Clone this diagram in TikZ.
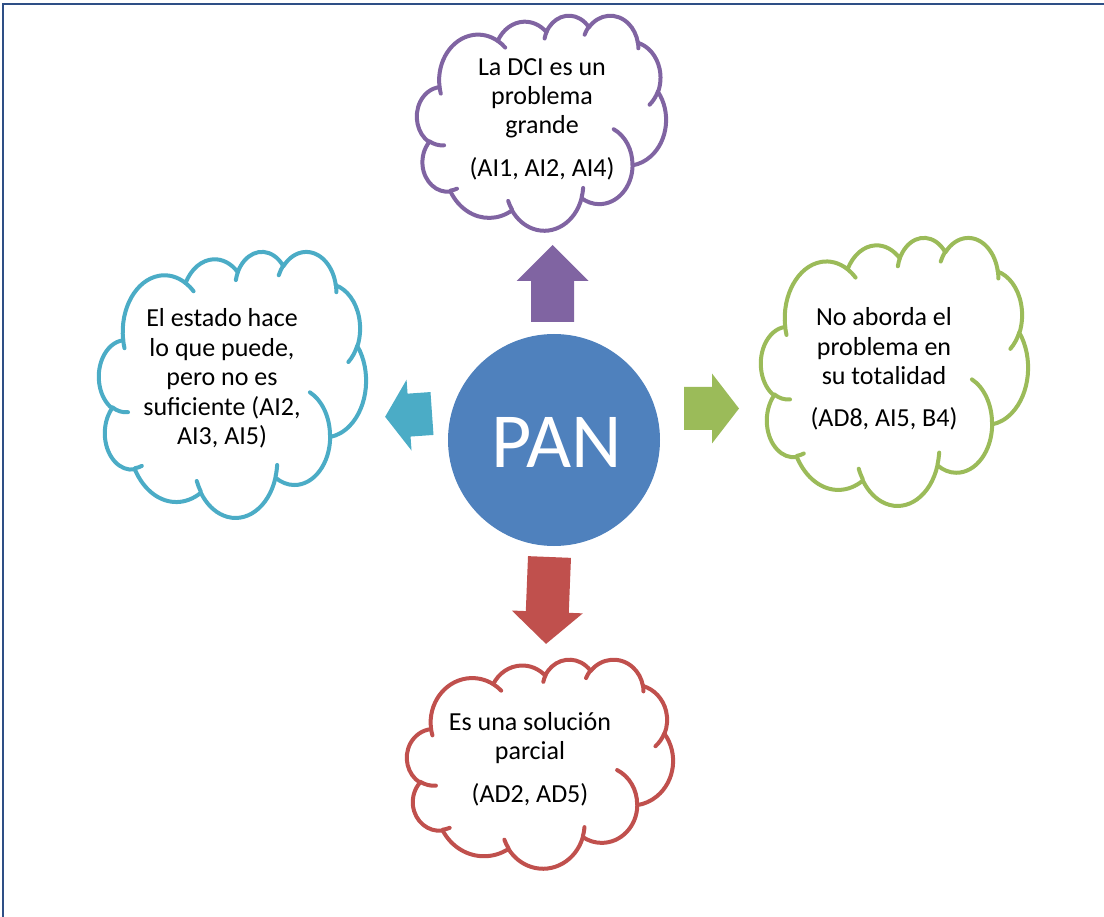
\documentclass[tikz,border=0pt]{standalone}
\usepackage{fontspec}
\setmainfont{Carlito}
\definecolor{cpurple}{HTML}{8064A2}
\definecolor{ccyan}{HTML}{4BACC6}
\definecolor{cgreen}{HTML}{9BBB59}
\definecolor{cred}{HTML}{C0504D}
\definecolor{cblue}{HTML}{4F81BD}
\definecolor{cframe}{HTML}{2E4F86}

% elliptical arc given by radii, start angle and sweep measured as visual angles
\newcommand\cloudarc[4]{arc[x radius=#1, y radius=#2,
  start angle={atan2(#1*sin(#3),#2*cos(#3))},
  delta angle={mod(atan2(#1*sin(#3+#4),#2*cos(#3+#4))-atan2(#1*sin(#3),#2*cos(#3))+720,360)}]}

% cloud outline in a 432 x 432 frame: #1 colour, #2 left, #3 top, #4 width, #5 height
\newcommand\drawcloud[5]{%
  \pgfmathsetmacro\cloudsx{#4/432}%
  \pgfmathsetmacro\cloudsy{#5/432}%
  \begin{scope}[shift={(#2,#3)}, x=\cloudsx pt, y=-\cloudsy pt]
    \filldraw[cloudline, draw=#1, fill=white] (39.00,143.70)
      \cloudarc{67.53}{91.90}{-190.48748}{123.78053}
      \cloudarc{53.33}{72.67}{-144.10238}{89.94523}
      \cloudarc{43.65}{59.45}{-145.80792}{99.72302}
      \cloudarc{48.57}{65.95}{-130.98607}{117.24173}
      \cloudarc{53.33}{72.73}{-78.70888}{109.02692}
      \cloudarc{67.75}{92.20}{-46.26725}{130.26900}
      \cloudarc{57.85}{78.67}{0.62502}{114.03333}
      \cloudarc{67.52}{92.15}{22.45160}{115.17255}
      \cloudarc{77.20}{105.43}{66.24263}{75.71102}
      \cloudarc{43.60}{59.18}{-274.94208}{146.73557}
      \cloudarc{43.45}{59.45}{-246.82850}{152.51885}
      -- cycle;
    \draw[cloudline, draw=#1]
      (46.93,261.77) \cloudarc{43.45}{59.45}{86.74200}{26.42950}
      (69.28,348.99) \cloudarc{43.60}{59.18}{73.61047}{11.44747}
      (164.78,390.90) \cloudarc{67.52}{92.15}{137.62415}{14.08110}
      (288.27,347.51) \cloudarc{67.52}{92.15}{6.45327}{15.99835}
      (341.29,229.54) \cloudarc{57.85}{78.67}{-70.29235}{70.91737}
      (417.98,153.54) \cloudarc{53.33}{72.73}{30.31803}{27.75150}
      (383.24,54.26) \cloudarc{48.57}{65.95}{-13.74433}{14.85890}
      (290.78,39.52) \cloudarc{48.57}{65.95}{-149.18145}{18.19537}
      (221.41,47.20) \cloudarc{43.65}{59.45}{-163.49427}{17.68635}
      (140.00,51.92) \cloudarc{67.53}{91.90}{-66.70695}{12.31935}
      (41.27,157.89) \cloudarc{67.53}{91.90}{157.65435}{11.85817};
  \end{scope}}

% block arrow: #1 colour, #2 #3 tail centre, #4 direction, #5 length,
% #6 shaft half width, #7 head half width, #8 head length
\newcommand\blockarr[8]{%
  \fill[#1, shift={(#2,#3)}, rotate=#4]
    (0,-#6) -- ({#5-#8},-#6) -- ({#5-#8},-#7) -- (#5,0)
    -- ({#5-#8},#7) -- ({#5-#8},#6) -- (0,#6) -- cycle;}

\begin{document}
\begin{tikzpicture}[x=1pt, y=-1pt,
  cloudline/.style={line width=4pt, line join=round, line cap=round},
  label/.style={align=center, inner sep=0pt, text=black,
    font=\fontsize{26}{29.4}\selectfont},
  hub/.style={circle, fill=cblue, minimum size=212pt, inner sep=0pt},
  frameline/.style={draw=cframe, line width=2pt}]
\useasboundingbox (0,0) rectangle (1104,917);

% page frame
\draw[frameline] (3,918) -- (3,4) -- (1105,4);

% clouds
\drawcloud{cpurple}{417}{15}{249}{215}
\drawcloud{ccyan}{99}{251}{267}{266}
\drawcloud{cgreen}{761}{237}{267}{268}
\drawcloud{cred}{407}{659}{266}{209}

% arrows leaving the hub
\blockarr{cpurple}{552.5}{322}{90}{77}{21.5}{36}{36}
\blockarr{cgreen}{684}{408.5}{0}{55}{21.5}{35}{27}
\blockarr{ccyan}{432}{413.5}{184}{47}{21.5}{35.5}{24}
\blockarr{cred}{549.5}{557}{-92.3}{87}{21.5}{35.5}{32}

% hub
\node[hub] (pan) at (554,440) {};
\node[text=white, inner sep=0pt, font=\fontsize{78}{80}\selectfont] (pantext) at (557,442) {PAN};

% texts
\node[label] (tdci) at (542,119) {La DCI es un\\problema\\grande\\[13pt](AI1, AI2, AI4)};
\node[label] (testado) at (222,378.5) {El estado hace\\lo que puede,\\pero no es\\suficiente (AI2,\\AI3, AI5)};
\node[label] (taborda) at (884,369) {No aborda el\\problema en\\su totalidad\\[13pt](AD8, AI5, B4)};
\node[label] (tparcial) at (530,759) {Es una solución\\parcial\\[13pt](AD2, AD5)};
\end{tikzpicture}
\end{document}
